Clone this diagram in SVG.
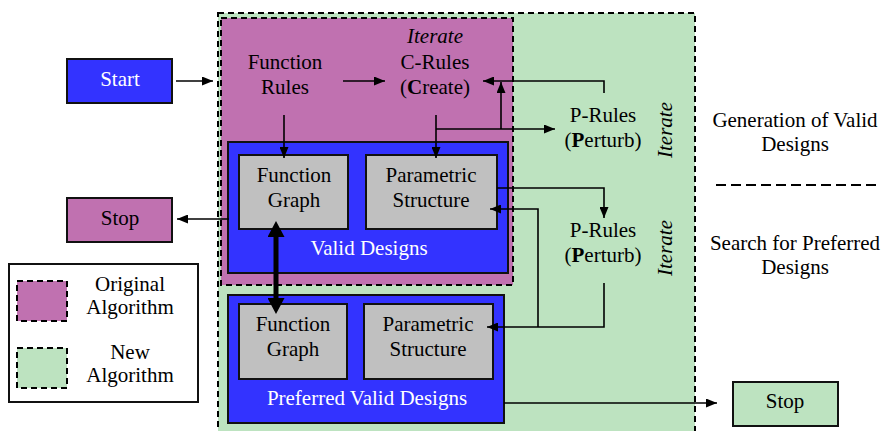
<svg xmlns="http://www.w3.org/2000/svg" width="885" height="431" viewBox="0 0 885 431" font-family="'Liberation Serif', 'DejaVu Serif', serif">
  <style>
    text { font-family: 'Liberation Serif', 'DejaVu Serif', serif; font-size: 21px; fill: #000; text-anchor: middle; }
    .w { fill: #fff; }
    .it { font-style: italic; }
    .b { font-weight: bold; }
    .dash { stroke: #000; stroke-width: 2; stroke-dasharray: 6 4; }
    .blue { fill: #3333ff; stroke: #111; stroke-width: 2; }
    .gray { fill: #c0c0c0; stroke: #111; stroke-width: 2; }
    .purple { fill: #c071b0; }
    .green { fill: #bde3c0; }
    .solid { stroke: #111; stroke-width: 2; }
    .ln { fill: none; stroke: #000; stroke-width: 1.6; }
    .arr { marker-end: url(#ah); }
  </style>
  <defs>
    <marker id="ah" markerUnits="userSpaceOnUse" markerWidth="11" markerHeight="9" refX="11" refY="4.5" orient="auto">
      <path d="M0,0 L11,4.5 L0,9 z" fill="#000"/>
    </marker>
    <marker id="big" markerUnits="userSpaceOnUse" markerWidth="16" markerHeight="17" refX="0" refY="8.5" orient="auto-start-reverse">
      <path d="M0,0 L16,8.5 L0,17 z" fill="#000"/>
    </marker>
  </defs>

  <rect width="885" height="431" fill="#fff"/>

  <!-- containers: new algorithm (green) and original algorithm (purple) -->
  <g id="new-algorithm">
    <rect x="218" y="13" width="477" height="430" class="green dash"/>
    <text class="it" transform="translate(672,130) rotate(-90)">Iterate</text>
    <text class="it" transform="translate(672,248) rotate(-90)">Iterate</text>
  </g>
  <g id="original-algorithm">
    <rect x="221" y="18" width="292" height="267" class="purple dash"/>
  </g>

  <!-- valid designs -->
  <g id="valid-designs">
    <rect x="228" y="142" width="280" height="131" class="blue"/>
    <text class="w" x="369" y="255">Valid Designs</text>
  </g>
  <g id="function-graph-1">
    <rect x="239" y="155" width="109" height="74" class="gray"/>
    <text x="294" y="182">Function</text>
    <text x="294" y="207">Graph</text>
  </g>
  <g id="parametric-structure-1">
    <rect x="366" y="155" width="131" height="74" class="gray"/>
    <text x="431" y="182">Parametric</text>
    <text x="431" y="207">Structure</text>
  </g>

  <!-- preferred valid designs -->
  <g id="preferred-valid-designs">
    <rect x="228" y="295" width="276" height="128" class="blue"/>
    <text class="w" x="367" y="405">Preferred Valid Designs</text>
  </g>
  <g id="function-graph-2">
    <rect x="239" y="304" width="108" height="75" class="gray"/>
    <text x="293" y="331">Function</text>
    <text x="293" y="356">Graph</text>
  </g>
  <g id="parametric-structure-2">
    <rect x="364" y="304" width="129" height="75" class="gray"/>
    <text x="428" y="331">Parametric</text>
    <text x="428" y="356">Structure</text>
  </g>

  <!-- rule sets -->
  <g id="function-rules">
    <text x="285" y="69">Function</text>
    <text x="285" y="94">Rules</text>
  </g>
  <g id="c-rules">
    <text class="it" x="435" y="43">Iterate</text>
    <text x="435" y="69">C-Rules</text>
    <text x="435" y="94">(<tspan class="b">C</tspan>reate)</text>
  </g>
  <g id="p-rules-1">
    <text x="603" y="122">P-Rules</text>
    <text x="603" y="147">(<tspan class="b">P</tspan>erturb)</text>
  </g>
  <g id="p-rules-2">
    <text x="603" y="237">P-Rules</text>
    <text x="603" y="262">(<tspan class="b">P</tspan>erturb)</text>
  </g>

  <!-- terminals -->
  <g id="start">
    <rect x="67" y="59" width="105" height="44" fill="#3333ff" class="solid"/>
    <text class="w" x="120" y="86">Start</text>
  </g>
  <g id="stop-1">
    <rect x="67" y="198" width="105" height="44" class="purple solid"/>
    <text x="120" y="225">Stop</text>
  </g>
  <g id="stop-2">
    <rect x="733" y="382" width="105" height="44" class="green solid"/>
    <text x="785" y="408">Stop</text>
  </g>

  <!-- legend -->
  <g id="legend">
    <rect x="9" y="264" width="189" height="138" fill="#fff" class="solid"/>
    <rect x="17" y="281" width="50" height="40" class="purple dash"/>
    <rect x="17" y="348" width="50" height="40" class="green dash"/>
    <text x="130" y="291">Original</text>
    <text x="130" y="314">Algorithm</text>
    <text x="130" y="359">New</text>
    <text x="130" y="382">Algorithm</text>
  </g>

  <!-- phase labels -->
  <g id="phases">
    <text x="795" y="127">Generation of Valid</text>
    <text x="795" y="151">Designs</text>
    <line x1="716" y1="185" x2="876" y2="185" stroke="#000" stroke-width="2" stroke-dasharray="10 5"/>
    <text x="795" y="250">Search for Preferred</text>
    <text x="795" y="274">Designs</text>
  </g>

  <!-- connectors -->
  <g id="connectors">
    <line x1="176" y1="81" x2="213" y2="81" class="ln arr"/>
    <line x1="343" y1="81" x2="385" y2="81" class="ln arr"/>
    <line x1="284" y1="115" x2="284" y2="158" class="ln arr"/>
    <line x1="436" y1="115" x2="436" y2="158" class="ln arr"/>
    <polyline points="436,129 555,129" class="ln arr"/>
    <line x1="501" y1="129" x2="501" y2="82" class="ln arr"/>
    <polyline points="604,93 604,81 483,81" class="ln arr"/>
    <polyline points="497,188 604,188 604,218" class="ln arr"/>
    <polyline points="538,327 538,209 490,209" class="ln arr"/>
    <polyline points="604,283 604,327 487,327" class="ln arr"/>
    <line x1="229" y1="219" x2="177" y2="219" class="ln arr"/>
    <line x1="504" y1="403" x2="717" y2="403" class="ln arr"/>
    <line x1="276" y1="237" x2="276" y2="298" stroke="#000" stroke-width="5" marker-start="url(#big)" marker-end="url(#big)"/>
  </g>
</svg>
